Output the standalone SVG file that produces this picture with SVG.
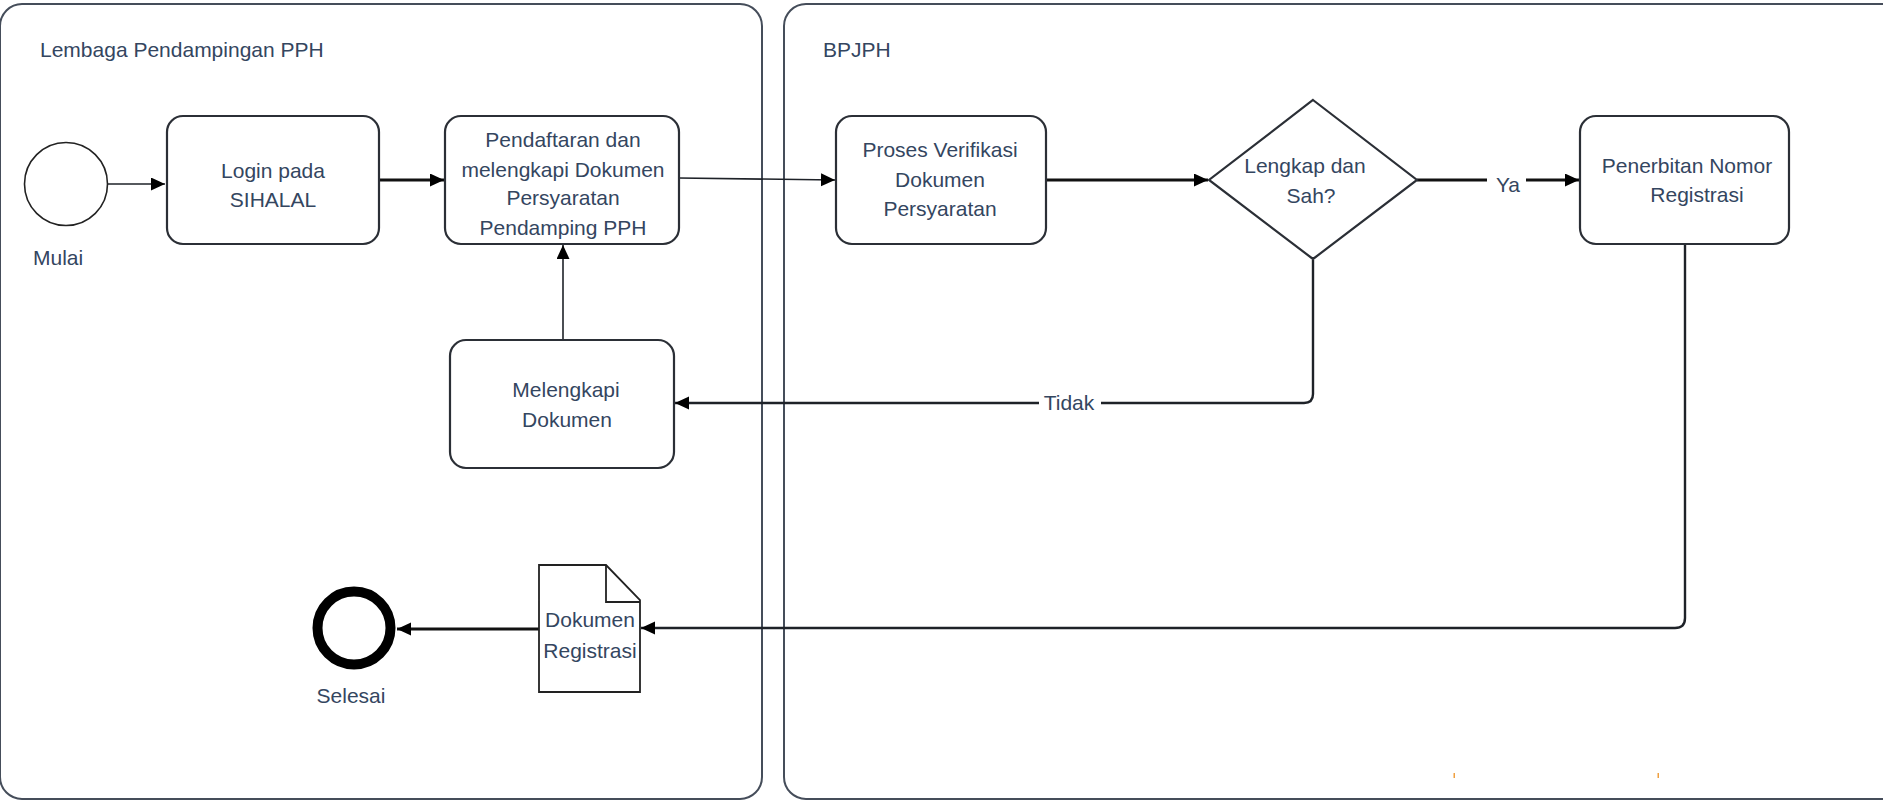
<svg xmlns="http://www.w3.org/2000/svg" width="1883" height="801" viewBox="0 0 1883 801">
<style>
  text { font-family: "Liberation Sans", Arial, sans-serif; font-size: 21px; fill: #34465f; }
  .c { text-anchor: middle; }
  .lane { fill: #ffffff; stroke: #454d5a; stroke-width: 2; }
  .box { fill: #ffffff; stroke: #2b2f36; stroke-width: 2.2; }
  .thin { fill: none; stroke: #1e2228; stroke-width: 1.6; }
  .mid { fill: none; stroke: #1e2228; stroke-width: 2.4; }
  .thick { fill: none; stroke: #111; stroke-width: 3.2; }
</style>
<defs>
  <marker id="arr" markerUnits="userSpaceOnUse" markerWidth="15" markerHeight="14" refX="14" refY="6.5" orient="auto">
    <path d="M0,0 L14,6.5 L0,13 Z" fill="#000"/>
  </marker>
</defs>
<rect width="1883" height="801" fill="#ffffff"/>
<g id="lane-lembaga">
  <rect class="lane" x="0" y="4" width="762" height="795" rx="22"/>
  <text x="40" y="57">Lembaga Pendampingan PPH</text>
</g>
<g id="lane-bpjph">
  <rect class="lane" x="784" y="4" width="1125" height="795" rx="22"/>
  <text x="823" y="57">BPJPH</text>
</g>
<g id="connectors">
  <path class="thin" d="M108,184 H165" marker-end="url(#arr)"/>
  <path class="thick" d="M379,180 H444" marker-end="url(#arr)"/>
  <path class="thin" d="M679,178 L835,180" stroke="#3a4456" marker-end="url(#arr)"/>
  <path class="thick" d="M1046,180 H1208" marker-end="url(#arr)"/>
  <path class="thick" d="M1417,180 H1579" marker-end="url(#arr)"/>
  <rect x="1487" y="168" width="39" height="26" fill="#ffffff"/>
  <text class="c" x="1508" y="192">Ya</text>
  <path class="mid" d="M1313,260 V394 Q1313,403 1304,403 H675" marker-end="url(#arr)"/>
  <rect x="1039" y="392" width="62" height="24" fill="#ffffff"/>
  <text class="c" x="1069" y="410">Tidak</text>
  <path class="thin" d="M563,340 V245" marker-end="url(#arr)"/>
  <path class="mid" d="M1685,244 V618 Q1685,628 1675,628 H641" marker-end="url(#arr)"/>
  <path class="thick" d="M539,629 H397" marker-end="url(#arr)"/>
</g>
<g id="mulai">
  <circle cx="66" cy="184" r="41.5" fill="#ffffff" stroke="#222" stroke-width="1.6"/>
  <text x="33" y="265">Mulai</text>
</g>
<g id="login">
  <rect class="box" x="167" y="116" width="212" height="128" rx="16"/>
  <text class="c" x="273" y="178">Login pada</text>
  <text class="c" x="273" y="207">SIHALAL</text>
</g>
<g id="pendaftaran">
  <rect class="box" x="445" y="116" width="234" height="128" rx="16"/>
  <text class="c" x="563" y="147">Pendaftaran dan</text>
  <text class="c" x="563" y="177">melengkapi Dokumen</text>
  <text class="c" x="563" y="205">Persyaratan</text>
  <text class="c" x="563" y="235">Pendamping PPH</text>
</g>
<g id="proses">
  <rect class="box" x="836" y="116" width="210" height="128" rx="16"/>
  <text class="c" x="940" y="157">Proses Verifikasi</text>
  <text class="c" x="940" y="187">Dokumen</text>
  <text class="c" x="940" y="216">Persyaratan</text>
</g>
<g id="keputusan">
  <polygon class="box" points="1313,100 1417,180 1313,259 1209,180"/>
  <text class="c" x="1305" y="173">Lengkap dan</text>
  <text class="c" x="1311" y="203">Sah?</text>
</g>
<g id="penerbitan">
  <rect class="box" x="1580" y="116" width="209" height="128" rx="16"/>
  <text class="c" x="1687" y="173">Penerbitan Nomor</text>
  <text class="c" x="1697" y="202">Registrasi</text>
</g>
<g id="melengkapi">
  <rect class="box" x="450" y="340" width="224" height="128" rx="16"/>
  <text class="c" x="566" y="397">Melengkapi</text>
  <text class="c" x="567" y="427">Dokumen</text>
</g>
<g id="dokumen-registrasi">
  <path d="M539,565 H606 L640,600 V692 H539 Z" fill="#ffffff" stroke="#222" stroke-width="1.8"/>
  <path d="M606,565 V602 H640" fill="none" stroke="#222" stroke-width="1.8"/>
  <text class="c" x="590" y="627">Dokumen</text>
  <text class="c" x="590" y="658">Registrasi</text>
</g>
<g id="selesai">
  <circle cx="354" cy="628" r="36.5" fill="#ffffff" stroke="#000" stroke-width="10"/>
  <text class="c" x="351" y="703">Selesai</text>
</g>
<rect x="1453.5" y="773" width="1.5" height="5" fill="#f0a040"/>
<rect x="1657.5" y="773" width="1.5" height="5" fill="#f0a040"/>
</svg>
